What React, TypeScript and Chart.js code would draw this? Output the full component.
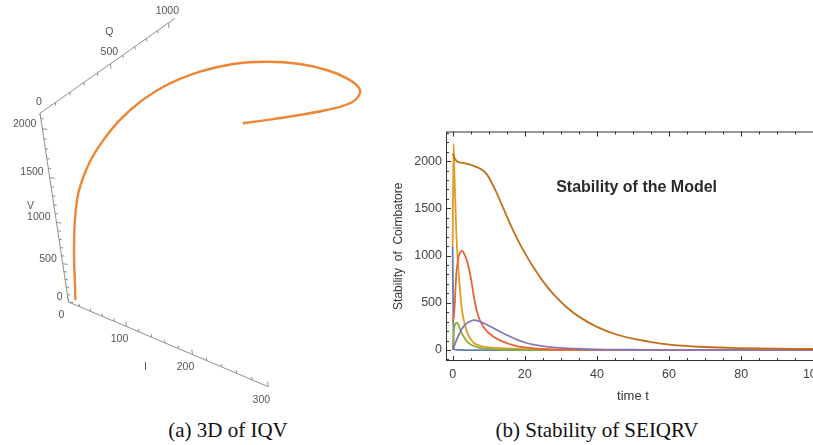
import React, { useEffect, useRef } from "react";
import { Chart, registerables } from "chart.js";
Chart.register(...registerables);

// ================= (b) Stability of SEIQRV : data =================
const timeT = [0, 0.25, 0.5, 1, 1.5, 2, 2.5, 3, 4, 5, 6, 7, 8, 9, 10, 12, 14, 16, 18, 20, 22, 25, 28, 32, 36, 40, 45, 50, 55, 60, 70, 80, 90, 100];
const susceptibleS = [1100, 40, 6, 2, 1, 1, 1, 0, 0, 0, 0, 0, 0, 0, 0, 0, 0, 0, 0, 0, 0, 0, 0, 0, 0, 0, 0, 0, 0, 0, 0, 0, 0, 0];
const exposedE = [1100, 2180, 1850, 1250, 900, 650, 450, 330, 190, 115, 72, 52, 40, 33, 28, 22, 18, 14, 11, 9, 7, 5, 4, 3, 2, 2, 1, 1, 1, 1, 0, 0, 0, 0];
const infectedI = [0, 150, 250, 290, 275, 225, 180, 145, 90, 58, 40, 28, 20, 15, 12, 8, 5, 4, 3, 2, 2, 1, 1, 1, 0, 0, 0, 0, 0, 0, 0, 0, 0, 0];
const quarantinedQ = [300, 340, 430, 800, 960, 1030, 1050, 1035, 940, 770, 540, 370, 280, 222, 180, 125, 88, 60, 40, 28, 19, 11, 6, 3, 2, 1, 1, 0, 0, 0, 0, 0, 0, 0];
const recoveredR = [0, 25, 50, 100, 145, 185, 220, 248, 285, 307, 316, 310, 296, 278, 258, 218, 178, 142, 108, 80, 60, 42, 29, 18, 11, 7, 4, 3, 2, 1, 1, 0, 0, 0];
const vaccinatedV = [2080, 2060, 2035, 2005, 1993, 1987, 1983, 1979, 1971, 1960, 1948, 1932, 1912, 1882, 1830, 1680, 1505, 1330, 1170, 1030, 900, 730, 590, 440, 330, 245, 170, 120, 85, 58, 32, 20, 14, 11];
const seriesNames = ["S", "E", "I", "Q", "R", "V"];
const seriesColors = ["#5E81B5", "#E19C24", "#8FB032", "#EB6235", "#8778B3", "#C56E1A"];
const xTickLabels = [0, 20, 40, 60, 80, 100];
const yTickLabels = [0, 500, 1000, 1500, 2000];
const chartTitle = "Stability of the Model";
const titleAnchor = { t: 51, v: 1725 };

// ================= (a) 3D of IQV : data =================
const curveI = [14, 18, 23, 31, 39, 47, 56, 62, 69, 72, 77, 86, 105, 130, 159, 192, 223, 250, 270, 279, 281, 270, 250, 230, 216];
const curveQ = [0, 0, 0, 0, 0, 9, 25, 71, 135, 248, 382, 550, 732, 889, 1025, 1127, 1174, 1176, 1140, 1076, 973, 838, 683, 556, 477];
const curveV = [70, 302, 613, 956, 1208, 1440, 1621, 1777, 1910, 2004, 2068, 2105, 2132, 2150, 2150, 2150, 2150, 2150, 2150, 2150, 2150, 2150, 2150, 2150, 2150];
const iAxisTicks = [0, 100, 200, 300];
const qAxisTicks = [0, 500, 1000];
const vAxisTicks = [0, 500, 1000, 1500, 2000];

// view (camera) settings for the 3D box
const VIEW = {
  ox: 68.5, oy: 302,
  iVec: [199.8, 84.7], qVec: [135, -95], vVec: [-28.5, -188.7],
  iMax: 300, qMax: 1064, vMax: 2150,
  iK: 0.182, qK: -0.2266, vK: 0.16,
};
const warp = (u: number, k: number) => (u * (1 - k)) / (1 - k * u);
function project(i: number, q: number, v: number) {
  const a = warp(i / VIEW.iMax, VIEW.iK);
  const b = warp(q / VIEW.qMax, VIEW.qK);
  const c = warp(v / VIEW.vMax, VIEW.vK);
  return {
    x: VIEW.ox + a * VIEW.iVec[0] + b * VIEW.qVec[0] + c * VIEW.vVec[0],
    y: VIEW.oy + a * VIEW.iVec[1] + b * VIEW.qVec[1] + c * VIEW.vVec[1],
  };
}

const SANS = "'Liberation Sans', Arial, sans-serif";

function LeftChart() {
  const ref = useRef<HTMLCanvasElement | null>(null);
  useEffect(() => {
    if (!ref.current) return;
    const axisColor = "#8f8f8f";
    const axisLine = (pts: { x: number; y: number }[]) => ({
      data: pts, showLine: true, borderColor: axisColor, borderWidth: 1, pointRadius: 0, tension: 0, order: 2,
    });
    const axesPlugin = {
      id: "axes3d",
      afterDatasetsDraw(chart: any) {
        const { ctx, scales } = chart;
        const sx = (p: any) => scales.x.getPixelForValue(p.x);
        const sy = (p: any) => scales.y.getPixelForValue(p.y);
        ctx.save();
        ctx.strokeStyle = axisColor;
        ctx.lineWidth = 1;
        ctx.fillStyle = "#555";
        ctx.font = `10.5px ${SANS}`;
        const tick = (p: any, dir: number[], len: number) => {
          const x = sx(p), y = sy(p);
          ctx.beginPath();
          ctx.moveTo(x, y);
          ctx.lineTo(x + dir[0] * len, y + dir[1] * len);
          ctx.stroke();
        };
        const up = [-0.149, -0.989], down = [0.149, 0.989], right = [0.99, 0.15];
        // I axis
        for (let i = 0; i <= VIEW.iMax; i += 20) tick(project(i, 0, 0), up, iAxisTicks.includes(i) ? 5 : 3);
        ctx.textAlign = "center"; ctx.textBaseline = "middle";
        iAxisTicks.forEach((i) => { const p = project(i, 0, 0); ctx.fillText(String(i), sx(p) - 7, sy(p) + 13); });
        // V axis
        for (let v = 0; v <= 2100; v += 100) tick(project(0, 0, v), right, vAxisTicks.includes(v) ? 5 : 3);
        ctx.textAlign = "right";
        vAxisTicks.forEach((v) => { const p = project(0, 0, v); ctx.fillText(String(v), sx(p) - 6, sy(p) - 5); });
        // Q axis
        for (let q = 0; q <= 1000; q += 100) tick(project(0, q, VIEW.vMax), down, qAxisTicks.includes(q) ? 5 : 3);
        ctx.textAlign = "center";
        qAxisTicks.forEach((q) => { const p = project(0, q, VIEW.vMax); ctx.fillText(String(q), sx(p) - 1, sy(p) - 11.6); });
        // axis names
        const pi = project(150, 0, 0); ctx.fillText("I", sx(pi) - 13, sy(pi) + 27);
        const pv = project(0, 0, 1000); ctx.fillText("V", sx(pv) - 26, sy(pv) - 16);
        const pq = project(0, 500, VIEW.vMax); ctx.fillText("Q", sx(pq) - 1, sy(pq) - 32);
        ctx.restore();
      },
    };
    const chart = new Chart(ref.current, {
      type: "scatter",
      data: {
        datasets: [
          axisLine([project(0, 0, 0), project(VIEW.iMax, 0, 0)]),
          axisLine([project(0, 0, 0), project(0, 0, VIEW.vMax)]),
          axisLine([project(0, 0, VIEW.vMax), project(0, VIEW.qMax, VIEW.vMax)]),
          {
            label: "IQV",
            data: curveI.map((i, k) => project(i, curveQ[k], curveV[k])),
            showLine: true, borderColor: "#EE8636", borderWidth: 2.4, pointRadius: 0, tension: 0.4, order: 1,
          },
        ],
      },
      options: {
        animation: false, responsive: false,
        layout: { padding: 0 },
        plugins: { legend: { display: false }, tooltip: { enabled: false } },
        scales: {
          x: { type: "linear", min: 0, max: 380, display: false },
          y: { type: "linear", min: 0, max: 410, reverse: true, display: false },
        },
      },
      plugins: [axesPlugin],
    } as any);
    return () => chart.destroy();
  }, []);
  return <canvas ref={ref} width={380} height={410} style={{ position: "absolute", left: 0, top: 0, width: 380, height: 410 }} />;
}

function RightChart() {
  const ref = useRef<HTMLCanvasElement | null>(null);
  useEffect(() => {
    if (!ref.current) return;
    const seriesList = [susceptibleS, exposedE, infectedI, quarantinedQ, recoveredR, vaccinatedV];
    const framePlugin = {
      id: "mmaFrame",
      afterDatasetsDraw(chart: any) {
        const { ctx, chartArea: ca, scales } = chart;
        const { x, y } = scales;
        ctx.save();
        ctx.strokeStyle = "#333";
        ctx.lineWidth = 1;
        ctx.strokeRect(ca.left + 0.5, ca.top + 0.5, ca.right - ca.left - 1, ca.bottom - ca.top - 1);
        const seg = (x1: number, y1: number, x2: number, y2: number) => {
          ctx.beginPath(); ctx.moveTo(x1, y1); ctx.lineTo(x2, y2); ctx.stroke();
        };
        for (let t = 0; t <= 100; t += 5) {
          const len = xTickLabels.includes(t) ? 5 : 3;
          const px = Math.round(x.getPixelForValue(t)) + 0.5;
          seg(px, ca.bottom, px, ca.bottom - len);
          seg(px, ca.top, px, ca.top + len);
        }
        for (let v = -100; v <= 2300; v += 100) {
          const len = yTickLabels.includes(v) ? 5 : 3;
          const py = Math.round(y.getPixelForValue(v)) + 0.5;
          seg(ca.left, py, ca.left + len, py);
          seg(ca.right, py, ca.right - len, py);
        }
        ctx.fillStyle = "#2a2a2a";
        ctx.font = `bold 16px ${SANS}`;
        ctx.textAlign = "center";
        ctx.textBaseline = "middle";
        ctx.fillText(chartTitle, x.getPixelForValue(titleAnchor.t), y.getPixelForValue(titleAnchor.v));
        ctx.restore();
      },
    };
    const tickFont = { family: SANS, size: 12.5 };
    const spiky = [true, true, false, false, false, false];
    const chart = new Chart(ref.current, {
      type: "scatter",
      data: {
        datasets: seriesList.map((vals, i) => ({
          label: seriesNames[i],
          data: timeT.map((t, j) => ({ x: t, y: vals[j] })),
          showLine: true,
          borderColor: seriesColors[i],
          borderWidth: 1.8,
          pointRadius: 0,
          ...(spiky[i] ? { cubicInterpolationMode: "monotone" } : { tension: 0.35 }),
          order: seriesList.length - i,
        })),
      },
      options: {
        animation: false, responsive: false,
        layout: { padding: { top: 11, right: 30, left: 0, bottom: 0 } },
        plugins: { legend: { display: false }, tooltip: { enabled: false } },
        scales: {
          x: {
            type: "linear", min: -1.85, max: 101.85,
            afterBuildTicks: (s: any) => { s.ticks = xTickLabels.map((v) => ({ value: v })); },
            afterFit: (s: any) => { s.height = 49; },
            grid: { display: false, drawTicks: false },
            border: { display: false },
            ticks: { padding: 6, font: tickFont, color: "#444", maxRotation: 0, autoSkip: false, callback: (v: any) => String(v) },
            title: { display: true, text: "time t", color: "#333", font: { family: SANS, size: 13 }, padding: { top: 0, bottom: 6 } },
          },
          y: {
            type: "linear", min: -116, max: 2314,
            afterBuildTicks: (s: any) => { s.ticks = yTickLabels.map((v) => ({ value: v })); },
            afterFit: (s: any) => { s.width = 66; },
            grid: { display: false, drawTicks: false },
            border: { display: false },
            ticks: { padding: 4, font: tickFont, color: "#444", autoSkip: false, callback: (v: any) => String(v) },
            title: { display: true, text: "Stability  of  Coimbatore", color: "#333", font: { family: SANS, size: 12 }, padding: { top: 11, bottom: 0 } },
          },
        },
      },
      plugins: [framePlugin],
    } as any);
    return () => chart.destroy();
  }, []);
  return <canvas ref={ref} width={470} height={290} style={{ position: "absolute", left: 380, top: 120, width: 470, height: 290 }} />;
}

const captionStyle: React.CSSProperties = {
  position: "absolute", top: 418, width: 300, textAlign: "center",
  fontFamily: "'Liberation Serif', 'Times New Roman', serif", fontSize: 21, lineHeight: "24px", color: "#111",
};

export default function App() {
  return (
    <div style={{ position: "absolute", left: 0, top: 0, width: 813, height: 445, overflow: "hidden", background: "#fff" }}>
      <LeftChart />
      <RightChart />
      <div style={{ ...captionStyle, left: 228 - 150 }}>(a) 3D of IQV</div>
      <div style={{ ...captionStyle, left: 597 - 150 }}>(b) Stability of SEIQRV</div>
    </div>
  );
}
